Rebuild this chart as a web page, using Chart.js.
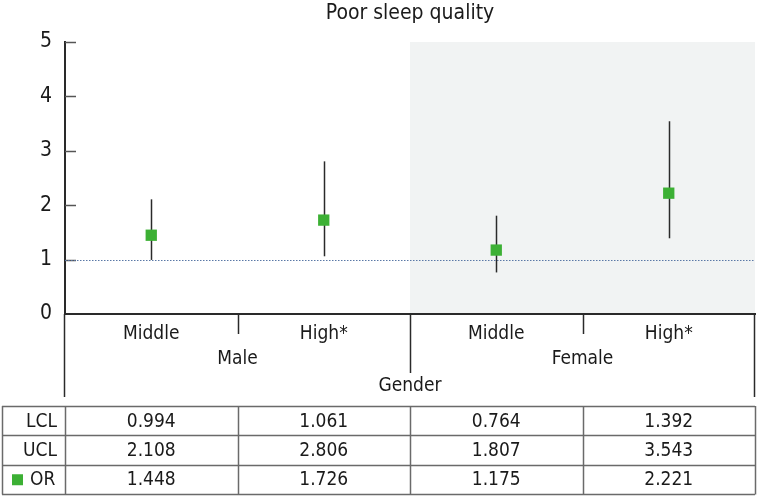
<!DOCTYPE html>
<html><head><meta charset="utf-8">
<script src="https://cdn.jsdelivr.net/npm/chart.js@4"></script>
<style>html,body{margin:0;padding:0;background:#fff;} #wrap{position:relative;width:757px;height:496px;}</style>
</head><body><div id="wrap"><canvas id="c" width="757" height="496"></canvas></div>
<script>
const title = 'Poor sleep quality';
const categories = ['Middle', 'High*', 'Middle', 'High*'];
const groups = ['Male', 'Female'];
const axisTitle = 'Gender';
const lcl = [0.994, 1.061, 0.764, 1.392];
const ucl = [2.108, 2.806, 1.807, 3.543];
const orValues = [1.448, 1.726, 1.175, 2.221];
const yMin = 0, yMax = 5, yStep = 1;
const refLine = 1;
const rowLabels = ['LCL', 'UCL', 'OR'];
const tableRows = [lcl, ucl, orValues];

const FF = "'Liberation Sans Narrow','DejaVu Sans Condensed','Roboto Condensed',Roboto,sans-serif";
const GREEN = '#3cb034';
const DARK = '#2a2a2a';
Chart.defaults.font.family = FF;
Chart.defaults.color = '#1a1a1a';

const fmt = v => v.toFixed(3);

const deco = {
  id: 'deco',
  beforeDraw(chart) {
    const {ctx, chartArea: a, scales: {x}} = chart;
    const mid = (x.getPixelForValue(1) + x.getPixelForValue(2)) / 2;
    ctx.save();
    ctx.fillStyle = '#f1f3f3';
    ctx.fillRect(mid, a.top, a.right - mid, a.bottom - a.top);
    ctx.restore();
  },
  beforeDatasetsDraw(chart) {
    const {ctx, chartArea: a, scales: {x, y}} = chart;
    ctx.save();
    ctx.strokeStyle = '#555';
    ctx.lineWidth = 1.5;
    for (let v = yMin + yStep; v <= yMax; v += yStep) {
      const py = Math.round(y.getPixelForValue(v)) + 0.5;
      ctx.beginPath(); ctx.moveTo(a.left, py); ctx.lineTo(a.left + 11, py); ctx.stroke();
    }
    const ry = Math.round(y.getPixelForValue(refLine)) + 0.5;
    ctx.strokeStyle = '#5a78a6';
    ctx.lineWidth = 1;
    ctx.setLineDash([1.5, 1.5]);
    ctx.beginPath(); ctx.moveTo(a.left, ry); ctx.lineTo(a.right, ry); ctx.stroke();
    ctx.setLineDash([]);
    ctx.strokeStyle = DARK;
    ctx.lineWidth = 1.5;
    categories.forEach((c, i) => {
      const px = Math.round(x.getPixelForValue(i)) + 0.5;
      ctx.beginPath();
      ctx.moveTo(px, y.getPixelForValue(lcl[i]));
      ctx.lineTo(px, y.getPixelForValue(ucl[i]));
      ctx.stroke();
    });
    ctx.restore();
  },
  afterDraw(chart) {
    const {ctx, chartArea: a, scales: {x}} = chart;
    const cx = i => x.getPixelForValue(i);
    const b1 = (cx(0) + cx(1)) / 2, b2 = (cx(1) + cx(2)) / 2, b3 = (cx(2) + cx(3)) / 2;
    ctx.save();
    ctx.fillStyle = '#1a1a1a';
    ctx.textAlign = 'center';
    ctx.textBaseline = 'middle';
    ctx.font = `21px ${FF}`;
    ctx.fillText(title, (a.left + a.right) / 2, 14);
    ctx.strokeStyle = DARK;
    ctx.lineWidth = 1.5;
    const seg = (px, y0, y1) => { ctx.beginPath(); ctx.moveTo(Math.round(px) + 0.5, y0); ctx.lineTo(Math.round(px) + 0.5, y1); ctx.stroke(); };
    seg(b1, a.bottom, a.bottom + 20);
    seg(b3, a.bottom, a.bottom + 20);
    seg(b2, a.bottom, a.bottom + 59);
    seg(a.left - 1, a.bottom, a.bottom + 83);
    seg(a.right - 1, a.bottom, a.bottom + 83);
    ctx.font = `19px ${FF}`;
    ctx.fillText(groups[0], b1, a.bottom + 45);
    ctx.fillText(groups[1], b3, a.bottom + 45);
    ctx.fillText(axisTitle, b2, a.bottom + 72);
    const tTop = 406, rh = 29.3, tLeft = 2, tRight = a.right;
    const colEdges = [tLeft, a.left, b1, b2, b3, tRight];
    ctx.strokeStyle = '#6a6a6a';
    ctx.lineWidth = 1.5;
    for (let r = 0; r <= rowLabels.length; r++) {
      const py = Math.round(tTop + r * rh) + 0.5;
      ctx.beginPath(); ctx.moveTo(tLeft, py); ctx.lineTo(tRight, py); ctx.stroke();
    }
    const tBot = Math.round(tTop + rowLabels.length * rh) + 0.5;
    colEdges.forEach(px => {
      const xx = Math.round(px) + 0.5;
      ctx.beginPath(); ctx.moveTo(xx, tTop); ctx.lineTo(xx, tBot); ctx.stroke();
    });
    ctx.font = `19px ${FF}`;
    ctx.fillStyle = '#1a1a1a';
    rowLabels.forEach((lab, r) => {
      const cy = tTop + (r + 0.5) * rh + 1;
      if (lab === 'OR') {
        ctx.fillStyle = GREEN;
        ctx.fillRect(12, cy - 6, 11, 11);
        ctx.fillStyle = '#1a1a1a';
        ctx.textAlign = 'left';
        ctx.fillText(lab, 30, cy);
      } else {
        ctx.textAlign = 'right';
        ctx.fillText(lab, a.left - 8, cy);
      }
      ctx.textAlign = 'center';
      tableRows[r].forEach((v, i) => ctx.fillText(fmt(v), cx(i), cy));
    });
    ctx.restore();
  }
};

new Chart(document.getElementById('c'), {
  type: 'line',
  data: {
    labels: categories,
    datasets: [{
      label: 'OR',
      data: orValues,
      showLine: false,
      pointStyle: 'rect',
      pointRadius: 8,
      pointHoverRadius: 8,
      pointBackgroundColor: GREEN,
      pointBorderWidth: 0,
      borderColor: GREEN,
      backgroundColor: GREEN
    }]
  },
  options: {
    responsive: false,
    animation: false,
    events: [],
    layout: {autoPadding: false, padding: {top: 42, right: 2, left: 0, bottom: 0}},
    plugins: {legend: {display: false}, tooltip: {enabled: false}, title: {display: false}},
    scales: {
      x: {
        type: 'category',
        offset: true,
        grid: {display: false, drawTicks: false},
        border: {display: true, color: DARK, width: 2},
        ticks: {font: {size: 19}, color: '#1a1a1a', padding: 9, maxRotation: 0, autoSkip: false},
        afterFit(s) { s.height = 182; s.paddingLeft = 0; s.paddingRight = 0; }
      },
      y: {
        min: yMin, max: yMax,
        grid: {display: false, drawTicks: false},
        border: {display: true, color: DARK, width: 2},
        ticks: {stepSize: yStep, font: {size: 21}, color: '#1a1a1a', padding: 13},
        afterFit(s) { s.width = 65; s.paddingTop = 0; s.paddingBottom = 0; }
      }
    }
  },
  plugins: [deco]
});
</script>
</body></html>
